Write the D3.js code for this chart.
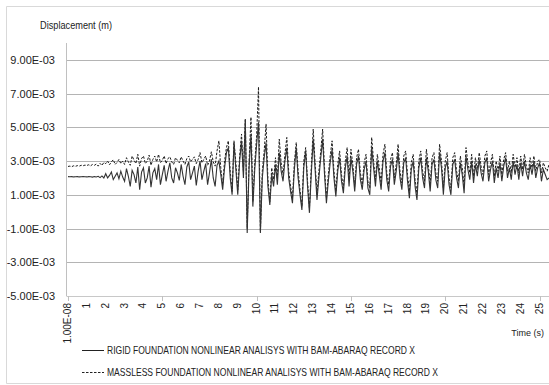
<!DOCTYPE html>
<html>
<head>
<meta charset="utf-8">
<script src="https://cdn.jsdelivr.net/npm/d3@7"></script>
<style>
  body { margin: 0; background: #fff; }
  svg text { font-family: "Liberation Sans Narrow", "Arial Narrow", "Liberation Sans", sans-serif; fill: #222; }
</style>
</head>
<body>
<svg id="chart" width="549" height="385"></svg>
<script>
// time step between samples (s)
const dt = 0.1;

// rigid foundation displacement, x1e-3 m, one row per second
const rigid = [
  2.08,2.07,2.08,2.06,2.07,2.08,2.06,2.07,2.08,2.07,
  2.06,2.08,2.07,2.05,2.08,2.06,2.10,2.02,2.12,2.00,
  2.25,2.00,2.15,2.35,1.90,2.10,2.30,1.95,2.40,2.05,
  1.80,2.55,2.10,1.50,2.45,2.20,1.70,2.65,1.30,2.35,
  2.60,1.70,2.00,2.70,1.45,2.30,2.55,1.90,2.80,1.60,
  2.20,2.75,1.80,2.40,2.90,2.00,1.70,2.60,2.30,1.85,
  2.80,2.10,1.60,2.65,2.95,1.90,2.30,2.70,1.55,2.40,
  3.00,1.90,2.40,2.85,1.60,2.30,3.10,2.00,1.50,2.75,
  3.00,2.20,1.30,2.60,3.50,3.80,2.00,1.00,4.10,2.50,
  1.00,3.00,4.20,2.00,5.45,-1.26,2.60,4.60,0.30,2.50,
  4.00,5.30,-1.26,2.00,3.20,4.10,1.50,0.40,2.20,1.50,
  2.80,1.60,3.50,2.40,1.80,3.00,3.80,2.00,1.20,0.50,
  2.50,3.80,2.00,1.00,0.10,2.60,3.60,1.50,-0.07,2.30,
  4.30,2.50,0.70,2.00,3.20,4.30,2.20,0.50,1.80,2.90,
  3.70,2.00,0.90,2.40,3.20,1.80,1.10,2.60,3.30,1.50,
  3.20,2.40,1.20,2.80,3.30,1.90,1.30,2.50,3.00,1.40,
  1.00,3.80,2.60,1.50,3.00,2.20,1.30,3.00,3.50,1.90,
  1.20,2.70,3.10,1.60,2.40,3.50,2.00,1.30,2.90,3.20,
  1.80,0.80,2.50,3.00,1.50,0.70,2.60,3.20,2.00,1.40,
  3.20,2.40,1.20,2.80,3.10,1.90,1.40,3.50,2.60,1.00,
  2.60,3.00,1.60,1.00,2.80,3.10,2.00,1.40,2.90,2.20,
  1.10,3.30,2.50,1.90,3.00,1.70,2.80,2.10,3.10,2.30,
  1.80,2.90,3.20,1.80,2.50,3.00,1.70,2.60,2.00,2.90,
  1.80,2.70,3.20,2.00,2.60,1.90,3.00,2.20,2.80,1.90,
  2.90,2.10,3.00,2.30,1.90,2.80,2.20,3.00,2.00,2.60,
  2.90,1.80,2.50,2.20,1.90,2.00
];

// massless foundation displacement, x1e-3 m
const massless = [
  2.68,2.70,2.67,2.72,2.69,2.73,2.70,2.75,2.72,2.76,
  2.74,2.78,2.72,2.80,2.75,2.82,2.70,2.86,2.74,2.92,
  2.85,3.00,2.78,2.95,3.08,2.80,2.92,3.10,2.85,3.00,
  2.80,3.20,2.95,2.75,3.30,3.05,2.85,3.40,2.70,3.15,
  3.30,2.85,3.00,3.35,2.75,3.10,3.30,2.95,3.40,2.90,
  3.05,3.30,2.85,3.15,3.25,2.95,2.80,3.20,3.05,2.90,
  3.25,3.00,2.80,3.15,3.30,2.95,3.10,3.25,2.85,3.10,
  3.50,2.90,3.10,3.30,2.75,3.00,3.55,2.95,2.70,3.60,
  4.20,2.60,1.60,3.00,3.80,4.20,2.40,1.20,4.20,2.90,
  1.30,3.30,4.60,2.40,5.50,-1.00,3.00,5.60,0.60,2.90,
  4.50,7.40,-1.20,2.40,3.60,5.20,1.90,0.60,2.60,1.90,
  3.20,2.00,4.30,2.90,2.20,3.40,4.40,2.40,1.50,0.80,
  2.90,4.10,2.40,1.30,0.30,3.00,3.80,1.80,0.20,2.70,
  4.90,2.90,1.00,2.40,3.60,4.90,2.60,0.80,2.20,3.30,
  4.20,2.40,1.20,2.80,3.60,2.20,1.40,3.00,3.80,1.90,
  3.70,2.80,1.50,3.20,3.70,2.30,1.60,2.90,3.40,1.80,
  1.40,4.40,3.00,1.90,3.40,2.60,1.70,3.40,4.00,2.30,
  1.60,3.10,3.50,2.00,2.80,4.00,2.40,1.70,3.30,3.60,
  2.20,1.20,2.90,3.40,1.90,1.10,3.00,3.60,2.40,1.80,
  3.70,2.80,1.60,3.20,3.50,2.30,1.80,4.00,3.00,1.40,
  3.00,3.50,2.00,1.40,3.20,3.50,2.40,1.80,3.30,2.60,
  1.50,3.80,2.90,2.30,3.40,2.10,3.20,2.50,3.50,2.70,
  2.20,3.30,3.60,2.20,2.90,3.40,2.10,3.00,2.40,3.30,
  2.20,3.10,3.50,2.40,3.00,2.30,3.40,2.60,3.20,2.30,
  3.30,2.50,3.40,2.70,2.30,3.20,2.60,3.30,2.40,3.00,
  3.10,2.30,2.90,2.60,2.40,2.80
];

const yTicks = [-5, -3, -1, 1, 3, 5, 7, 9];          // x1e-3
const xTickLabels = d3.range(0, 26);                   // seconds
const xMajorTicks = [0, 5, 10, 15, 20, 25];
const legendLabels = [
  'RIGID FOUNDATION NONLINEAR ANALISYS WITH BAM-ABARAQ RECORD X',
  'MASSLESS FOUNDATION NONLINEAR ANALISYS WITH BAM-ABARAQ RECORD X'
];

const svg = d3.select('#chart');
const plot = { left: 66.5, right: 549, top: 43, bottom: 296 };

// outer chart border (right edge runs off the image, as in the source)
svg.append('path')
  .attr('d', 'M549,6.5H6.5V383.5H549')
  .attr('fill', 'none').attr('stroke', '#d9d9d9');

const x = d3.scaleLinear().domain([0, 25.5]).range([plot.left + 1.5, plot.right]);
const y = d3.scaleLinear().domain([-5, 10]).range([plot.bottom, plot.top]);

// gridlines
svg.append('g')
  .selectAll('line')
  .data(yTicks)
  .join('line')
  .attr('x1', plot.left).attr('x2', plot.right)
  .attr('y1', d => Math.round(y(d)) + 0.5).attr('y2', d => Math.round(y(d)) + 0.5)
  .attr('stroke', d => d === -5 ? '#c8c8c8' : '#b4b4b4');

// y axis
svg.append('line')
  .attr('x1', plot.left).attr('x2', plot.left)
  .attr('y1', plot.top).attr('y2', plot.bottom)
  .attr('stroke', '#c0c0c0');

const fmtY = v => (v < 0 ? '-' : '') + Math.abs(v).toFixed(2) + 'E-03';
svg.append('g')
  .selectAll('text')
  .data(yTicks)
  .join('text')
  .attr('x', 55).attr('y', d => y(d) + 4)
  .attr('text-anchor', 'end')
  .attr('font-size', 11)
  .text(fmtY);

// x axis ticks + labels
svg.append('g')
  .selectAll('line')
  .data(xMajorTicks)
  .join('line')
  .attr('x1', d => Math.round(x(d)) + 0.5).attr('x2', d => Math.round(x(d)) + 0.5)
  .attr('y1', plot.bottom).attr('y2', plot.bottom + 5)
  .attr('stroke', '#c0c0c0');

svg.append('g')
  .selectAll('text')
  .data(xTickLabels)
  .join('text')
  .attr('transform', d => `translate(${x(d) + 3},303) rotate(-90)`)
  .attr('text-anchor', 'end')
  .attr('font-size', 10)
  .text(d => d === 0 ? '1.00E-08' : d);

svg.append('text')
  .attr('x', 544).attr('y', 336)
  .attr('text-anchor', 'end')
  .attr('font-size', 9)
  .text('Time (s)');

svg.append('text')
  .attr('x', 40).attr('y', 29)
  .attr('font-size', 10)
  .attr('textLength', 72)
  .attr('lengthAdjust', 'spacingAndGlyphs')
  .text('Displacement (m)');

// series
const line = d3.line()
  .x((d, i) => x(i * dt))
  .y(d => y(d));

svg.append('path')
  .datum(massless)
  .attr('d', line)
  .attr('fill', 'none')
  .attr('stroke', '#1a1a1a')
  .attr('stroke-width', 1)
  .attr('stroke-dasharray', '2.5,1.5');

svg.append('path')
  .datum(rigid)
  .attr('d', line)
  .attr('fill', 'none')
  .attr('stroke', '#333')
  .attr('stroke-width', 1.1);

// legend
const legend = svg.append('g');
const legendY = [350, 372];
const legendW = [308, 331];
legend.selectAll('line')
  .data(legendLabels)
  .join('line')
  .attr('x1', 82).attr('x2', 104)
  .attr('y1', (d, i) => legendY[i] + 0.5).attr('y2', (d, i) => legendY[i] + 0.5)
  .attr('stroke', '#222')
  .attr('stroke-dasharray', (d, i) => i === 1 ? '2.5,1.5' : null);

legend.selectAll('text')
  .data(legendLabels)
  .join('text')
  .attr('x', 107).attr('y', (d, i) => legendY[i] + 4)
  .attr('font-size', 11)
  .attr('textLength', (d, i) => legendW[i])
  .attr('lengthAdjust', 'spacingAndGlyphs')
  .text(d => d);
</script>
</body>
</html>
